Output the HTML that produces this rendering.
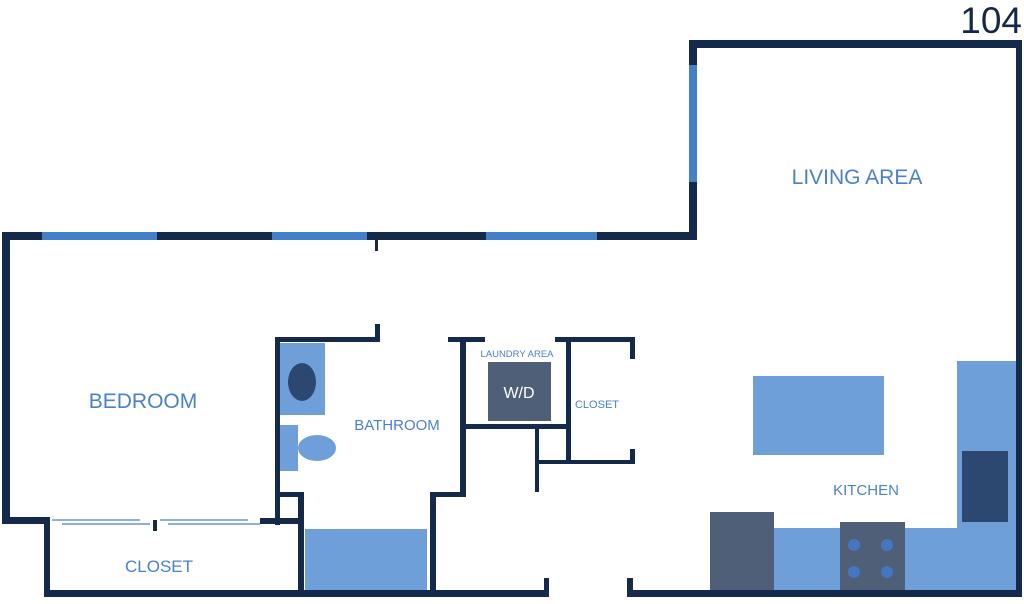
<!DOCTYPE html>
<html><head><meta charset="utf-8"><style>
html,body{margin:0;padding:0;background:#fff;}
svg{display:block}
text{font-family:"Liberation Sans",sans-serif;}
</style></head><body>
<svg width="1024" height="604" viewBox="0 0 1024 604" xmlns="http://www.w3.org/2000/svg">
<g fill="#15294b">
<rect x="2" y="232" width="695" height="8"/>
<rect x="689" y="40" width="333" height="8"/>
<rect x="689" y="40" width="8" height="200"/>
<rect x="1016" y="40" width="6" height="557"/>
<rect x="2" y="232" width="8" height="291"/>
<rect x="375" y="240" width="3" height="11"/>
<rect x="2" y="517" width="48" height="7"/>
<rect x="44" y="517" width="6" height="80"/>
<rect x="44" y="590" width="392" height="7"/>
<rect x="260" y="518" width="44" height="6"/>
<rect x="153" y="520" width="4" height="11"/>
<rect x="275" y="337" width="5" height="188"/>
<rect x="275" y="337" width="105" height="5"/>
<rect x="375" y="324" width="5" height="18"/>
<rect x="275" y="492" width="29" height="5"/>
<rect x="298" y="492" width="6" height="105"/>
<rect x="430" y="492" width="6" height="105"/>
<rect x="430" y="492" width="36" height="5"/>
<rect x="460" y="337" width="6" height="160"/>
<rect x="448" y="337" width="37" height="5"/>
<rect x="555" y="337" width="80" height="5"/>
<rect x="566" y="337" width="5" height="127"/>
<rect x="630" y="337" width="5" height="22"/>
<rect x="630" y="449" width="5" height="15"/>
<rect x="460" y="424" width="111" height="5"/>
<rect x="535" y="424" width="4" height="68"/>
<rect x="535" y="460" width="100" height="4"/>
<rect x="627" y="590" width="395" height="7"/>
<rect x="627" y="578" width="6" height="19"/>
<rect x="544" y="578" width="5" height="19"/>
<rect x="430" y="590" width="119" height="7"/>
</g>
<g fill="#4380c8">
<rect x="42" y="232" width="115" height="8"/>
<rect x="272" y="232" width="95" height="8"/>
<rect x="486" y="232" width="111" height="8"/>
<rect x="689" y="65" width="8" height="117"/>
</g>
<g stroke="#4a80cc" stroke-width="1.2">
<line x1="52" y1="520" x2="140" y2="520"/>
<line x1="62" y1="524" x2="150" y2="524"/>
<line x1="168" y1="524" x2="260" y2="524"/>
<line x1="160" y1="520" x2="248" y2="520"/>
</g>
<rect x="280" y="343" width="45" height="72" fill="#6f9fd8"/>
<ellipse cx="302" cy="382" rx="14" ry="19" fill="#2c4770"/>
<rect x="280" y="425" width="18" height="46" fill="#6f9fd8"/>
<ellipse cx="317" cy="448" rx="19" ry="13" fill="#6f9fd8"/>
<rect x="305" y="529" width="122" height="61" fill="#6f9fd8"/>
<rect x="488" y="362" width="63" height="59" fill="#4f5f78"/>
<rect x="753" y="376" width="131" height="79" fill="#6f9fd8"/>
<rect x="957" y="361" width="59" height="229" fill="#6f9fd8"/>
<rect x="773" y="528" width="243" height="62" fill="#6f9fd8"/>
<rect x="962" y="451" width="46" height="71" fill="#2c4770"/>
<rect x="710" y="512" width="64" height="78" fill="#4f5f78"/>
<rect x="840" y="522" width="65" height="68" fill="#4f5f78"/>
<g fill="#4377c0">
<circle cx="854" cy="545" r="6"/><circle cx="887" cy="545" r="6"/>
<circle cx="854" cy="572" r="6"/><circle cx="887" cy="572" r="6"/>
</g>
<g fill="#4a80cc">
<text x="143" y="408" font-size="21" text-anchor="middle">BEDROOM</text>
<text x="397" y="430" font-size="15" text-anchor="middle">BATHROOM</text>
<text x="159" y="572" font-size="17" text-anchor="middle">CLOSET</text>
<text x="517" y="357" font-size="9.5" text-anchor="middle">LAUNDRY AREA</text>
<text x="597" y="408" font-size="11" text-anchor="middle">CLOSET</text>
<text x="866" y="495" font-size="15" text-anchor="middle">KITCHEN</text>
<text x="857" y="184" font-size="21" text-anchor="middle">LIVING AREA</text>
</g>
<text x="519" y="398" font-size="16" fill="#fff" text-anchor="middle">W/D</text>
<text x="1022" y="33" font-size="37" fill="#15284a" text-anchor="end">104</text>
</svg>
</body></html>
